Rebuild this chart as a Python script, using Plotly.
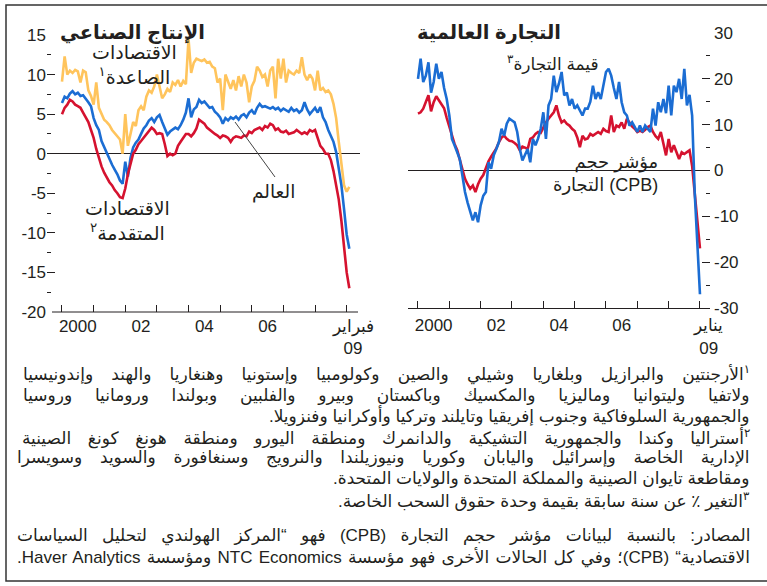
import plotly.graph_objects as go

# ---------------- data ----------------
# Left panel: industrial production, monthly Jan 2000 .. Feb 2009 (% change y/y)
ip_emerging = [9.1, 12.3, 10.0, 10.5, 10.2, 10.6, 10.4, 9.0, 10.5, 10.3, 8.0, 7.3,
               6.2, 9.0, 5.8, 5.0, 4.3, 4.0, 3.6, 3.0, 2.6, 2.2, 1.8, 0.0,
               5.0, 1.0, 2.5, 4.0, 3.5, 5.5, 6.0, 5.5, 7.2, 8.0, 7.7, 8.5,
               10.0, 8.5, 7.0, 7.5, 8.2, 7.8, 9.0, 8.7, 9.3, 8.5, 9.2, 8.8,
               14.5, 10.2, 11.5, 12.0, 11.8, 11.7, 11.9, 11.5, 11.6, 11.0, 10.8, 9.0,
               9.5, 5.5, 10.0, 9.0, 8.2, 9.3, 8.0, 9.8, 8.5, 10.0, 9.0, 6.5,
               8.5, 9.2, 11.0, 10.5, 9.7, 10.0, 8.5, 10.5, 11.0, 7.0, 12.0, 9.5,
               12.0, 9.0, 10.5, 10.2, 10.0, 10.5, 10.2, 12.2, 10.0, 9.3, 10.0, 9.5,
               8.0, 10.5, 8.0, 8.3, 7.8, 8.0, 7.5, 6.3, 4.5, 1.5, -1.5, -4.0,
               -4.8, -4.2]
ip_world = [6.4, 7.2, 7.0, 7.6, 7.9, 7.5, 7.7, 7.3, 7.4, 7.0, 6.5, 6.0,
            4.5, 3.6, 3.0, 1.6, 0.8, 0.0, -0.8, -1.4, -2.0, -2.6, -3.4, -3.8,
            -1.0, -2.9, -0.5, 0.8, 1.4, 1.8, 2.5, 3.2, 3.6, 4.2, 4.5, 4.0,
            4.6, 4.9, 4.0, 3.2, 2.4, 2.8, 3.0, 3.3, 3.1, 3.6, 4.3, 5.2,
            7.0, 4.6, 5.6, 5.9, 6.8, 6.4, 6.6, 6.2, 5.8, 5.9, 5.3, 5.0,
            4.6, 3.8, 4.5, 4.2, 4.6, 4.4, 4.7, 4.3, 4.8, 5.0, 4.6, 5.2,
            5.5, 5.0, 5.8, 6.3, 5.9, 6.0, 5.8, 5.7, 5.9, 5.6, 5.8, 5.4,
            5.7, 5.5, 5.3, 5.8, 5.4, 5.6, 5.2, 5.5, 6.5, 5.6, 5.0, 5.4,
            5.8, 5.2, 5.9, 4.6, 4.0, 3.0, 2.3, 1.5, 0.2, -1.8, -4.0, -7.0,
            -10.2, -12.0]
ip_advanced = [5.0, 5.8, 6.2, 6.8, 6.6, 6.2, 6.0, 5.8, 5.2, 4.6, 4.0, 3.0,
               2.0, 0.6, -0.6, -1.6, -2.4, -3.0, -3.6, -4.0, -4.6, -5.0, -5.5, -5.6,
               -4.4, -2.6, -1.2, 0.0, 0.5, 1.2, 1.6, 2.0, 2.5, 2.8, 3.3, 3.0,
               2.5, 2.6, 2.5, 1.2, -0.3, 0.0, -0.2, 0.0, 1.0, 1.5, 2.0, 2.5,
               2.5, 2.2, 2.6, 3.2, 4.3, 4.0, 3.8, 3.3, 3.0, 2.7, 2.5, 2.3,
               2.0, 2.3, 2.2, 2.0, 1.5, 2.0, 2.2, 2.1, 2.0, 2.3, 2.2, 2.8,
               2.6, 3.0, 3.2, 3.3, 3.0, 3.5, 3.3, 3.8, 3.6, 3.0, 3.2, 2.8,
               2.7, 2.9, 2.5, 2.6, 2.7, 3.0, 2.8, 2.5, 2.7, 2.5, 3.0, 2.8,
               3.0, 2.0, 1.0, 0.6, 0.0, 0.0, -0.8, -2.2, -3.8, -5.8, -8.5, -11.8,
               -15.0, -17.0]

# Right panel: world trade, monthly Jan 2000 .. Jan 2009
trade_value = [20.0, 24.4, 19.3, 20.7, 23.6, 17.0, 19.3, 23.3, 20.0, 21.5, 18.0, 15.6,
               12.0, 6.9, 5.5, 4.0, 2.5, -1.1, -4.7, -7.0, -9.1, -10.9, -9.1, -11.3,
               -7.6, -5.5, -4.7, 1.8, 0.4, 3.3, 4.7, 6.2, 9.1, 7.6, 10.2, 11.3,
               10.9, 10.5, 8.4, 4.7, 2.2, 3.3, 4.7, 1.8, 6.9, 5.5, 7.0, 9.1,
               12.7, 6.9, 14.2, 15.6, 20.7, 17.1, 19.0, 21.5, 16.4, 17.0, 14.2, 15.6,
               13.5, 14.2, 12.9, 12.0, 13.5, 13.5, 15.0, 18.5, 15.6, 17.1, 15.6, 19.0,
               21.5, 22.2, 20.7, 18.0, 15.6, 19.3, 14.9, 12.7, 12.0, 9.8, 10.5, 9.5,
               8.4, 9.8, 8.4, 9.8, 9.0, 8.4, 13.5, 9.8, 14.9, 12.7, 15.6, 12.5,
               18.5, 12.0, 18.5, 17.1, 20.0, 15.6, 22.2, 14.2, 16.5, 12.0, -5.0, -15.0,
               -27.0]
trade_volume_cpb = [12.4, 12.7, 13.5, 14.8, 16.4, 12.9, 14.9, 16.2, 15.4, 14.6, 13.6, 11.5,
                    9.5, 7.6, 5.8, 4.5, 2.5, 0.6, -1.8, -3.0, -4.0, -3.3, -4.7, -3.0,
                    -1.8, -1.0, 0.5, 2.0, 3.0, 4.0, 4.8, 6.2, 7.2, 7.6, 6.9, 6.5,
                    6.4, 6.0, 5.5, 4.4, 5.2, 5.0, 4.7, 6.9, 7.2, 8.0, 8.4, 8.2,
                    9.5, 10.5, 11.3, 12.0, 12.7, 14.2, 12.0, 10.5, 10.9, 10.2, 9.8, 9.1,
                    8.6, 7.2, 5.1, 7.6, 6.8, 7.0, 8.0, 7.6, 8.1, 8.4, 8.0, 9.1,
                    8.6, 8.4, 12.0, 8.4, 9.8, 9.5, 10.5, 9.1, 11.3, 10.5, 9.6, 9.1,
                    8.4, 8.7, 8.4, 8.9, 9.5, 9.8, 8.4, 7.5, 6.9, 8.4, 5.5, 3.3,
                    6.9, 4.0, 5.5, 4.0, 2.5, 4.0, 3.6, 4.0, 4.4, 1.0, -5.0, -10.0,
                    -17.0]

year_ticks = [2000, 2001, 2002, 2003, 2004, 2005, 2006, 2007, 2008, 2009]
label_pos_left = [2000.5, 2002.5, 2004.5, 2006.5, 2009.2]
label_pos_right = [2000.5, 2002.5, 2004.5, 2006.5, 2009.28]
left_ticktext = ["2000", "02", "04", "06", "فبراير<br>09"]
right_ticktext = ["2000", "02", "04", "06", "يناير<br>09"]
left_yvals = [-20, -15, -10, -5, 0, 5, 10, 15]
left_ytext = ["-20", "-15", "-10", "-5", "0", "5", "10", "15"]
right_yvals = [-30, -20, -10, 0, 10, 20, 30]
right_ytext = ["-30", "-20", "-10", "0", "10", "20", "30"]

footnotes = [
    "<sup>۱</sup>الأرجنتين والبرازيل وبلغاريا وشيلي والصين وكولومبيا وإستونيا وهنغاريا والهند وإندونيسيا",
    "ولاتفيا وليتوانيا وماليزيا والمكسيك وباكستان وبيرو والفلبين وبولندا ورومانيا وروسيا",
    "والجمهورية السلوفاكية وجنوب إفريقيا وتايلند وتركيا وأوكرانيا وفنزويلا.",
    "<sup>۲</sup>أستراليا وكندا والجمهورية التشيكية والدانمرك ومنطقة اليورو ومنطقة هونغ كونغ الصينية",
    "الإدارية الخاصة وإسرائيل واليابان وكوريا ونيوزيلندا والنرويج وسنغافورة والسويد وسويسرا",
    "ومقاطعة تايوان الصينية والمملكة المتحدة والولايات المتحدة.",
    "<sup>۳</sup>التغير ٪ عن سنة سابقة بقيمة وحدة حقوق السحب الخاصة.",
    "المصادر: بالنسبة لبيانات مؤشر حجم التجارة (CPB) فهو “المركز الهولندي لتحليل السياسات",
    "الاقتصادية“ (CPB)؛ وفي كل الحالات الأخرى فهو مؤسسة NTC Economics ومؤسسة Haver Analytics.",
]
footnote_y = [374, 395, 416, 437, 458, 479, 500, 536, 557]
footnote_wordspacing = [13.5, 18, 0, 12, 13, 0, 0, 9.5, 1.5]

# ---------------- helpers ----------------
W, H = 767, 586
def px(x):
    return x / W
def py(y):
    return 1 - y / H
def rtl(s):
    return "\u202b" + s + "\u202c"

def months(n):
    return [2000 + m / 12 for m in range(n)]

INK = "#231F20"
ORANGE = "#FFC45C"
BLUE = "#1B6DD3"
RED = "#D5122F"
NUM_FONT = "Liberation Sans, Arial, sans-serif"
AR_FONT = "Liberation Sans, DejaVu Sans, sans-serif"

fig = go.Figure()
xl = months(len(ip_world))
xr = months(len(trade_value))
fig.add_trace(go.Scatter(x=xl, y=ip_emerging, mode="lines", line=dict(color=ORANGE, width=2.6), xaxis="x", yaxis="y", showlegend=False))
fig.add_trace(go.Scatter(x=xl, y=ip_world, mode="lines", line=dict(color=BLUE, width=2.6), xaxis="x", yaxis="y", showlegend=False))
fig.add_trace(go.Scatter(x=xl, y=ip_advanced, mode="lines", line=dict(color=RED, width=2.6), xaxis="x", yaxis="y", showlegend=False))
fig.add_trace(go.Scatter(x=xr, y=trade_volume_cpb, mode="lines", line=dict(color=RED, width=2.6), xaxis="x2", yaxis="y2", showlegend=False))
fig.add_trace(go.Scatter(x=xr, y=trade_value, mode="lines", line=dict(color=BLUE, width=2.6), xaxis="x2", yaxis="y2", showlegend=False))

tickfont = dict(family=NUM_FONT, size=17, color=INK)

left_minor = [-17.5, -12.5, -7.5, -2.5, 2.5, 7.5, 12.5]
right_minor = [-25, -15, -5, 5, 15, 25]

common = dict(showgrid=False, automargin=False, tickcolor=INK, tickwidth=1)

fig.update_layout(
    width=W, height=H,
    margin=dict(l=0, r=0, t=0, b=0, autoexpand=False),
    paper_bgcolor="white", plot_bgcolor="rgba(0,0,0,0)",
    xaxis=dict(domain=[px(47), px(360)], range=[1999.526, 2009.421], anchor="y",
               tickvals=label_pos_left, ticktext=left_ticktext, ticks="", ticklabelstandoff=2,
               zeroline=False, showline=False, tickfont=tickfont,
               minor=dict(tickvals=year_ticks, ticks="inside", ticklen=7, tickcolor=INK, showgrid=False),
               **common),
    yaxis=dict(domain=[py(312), py(35)], range=[-20, 15], anchor="x",
               tickvals=left_yvals, ticktext=left_ytext, ticks="inside", ticklen=8,
               zeroline=True, zerolinecolor=INK, zerolinewidth=1, showline=False, tickfont=tickfont,
               minor=dict(tickvals=left_minor, ticks="inside", ticklen=4, tickcolor=INK, showgrid=False),
               **common),
    yaxis3=dict(overlaying="y", side="right", anchor="x", range=[-20, 15],
                tickvals=left_yvals, ticks="inside", ticklen=8,
                showticklabels=False, zeroline=False, showline=False,
                minor=dict(tickvals=left_minor, ticks="inside", ticklen=4, tickcolor=INK, showgrid=False),
                **common),
    xaxis2=dict(domain=[px(408), px(710)], range=[1999.681, 2009.32], anchor="y2",
                tickvals=label_pos_right, ticktext=right_ticktext, ticks="", ticklabelstandoff=2,
                zeroline=False, showline=True, linecolor=INK, linewidth=1, tickfont=tickfont,
                minor=dict(tickvals=year_ticks, ticks="inside", ticklen=7, tickcolor=INK, showgrid=False),
                **common),
    yaxis2=dict(domain=[py(308), py(33)], range=[-30, 30], anchor="x2", side="right",
                tickvals=right_yvals, ticktext=right_ytext, ticks="inside", ticklen=8,
                ticklabelstandoff=3,
                zeroline=True, zerolinecolor=INK, zerolinewidth=1, showline=False, tickfont=tickfont,
                minor=dict(tickvals=right_minor, ticks="inside", ticklen=4, tickcolor=INK, showgrid=False),
                **common),
    yaxis4=dict(overlaying="y2", side="left", anchor="x2", range=[-30, 30],
                tickvals=right_yvals, ticks="inside", ticklen=7,
                showticklabels=False, zeroline=False, showline=False,
                minor=dict(tickvals=right_minor, ticks="inside", ticklen=4, tickcolor=INK, showgrid=False),
                **common),
)

shapes = [
    # outer frame
    dict(type="rect", xref="paper", yref="paper", x0=px(6), x1=1.02, y0=py(581), y1=py(5),
         line=dict(color="#333333", width=1.5), fillcolor="rgba(0,0,0,0)", layer="below"),
    # left panel x-axis line
    dict(type="line", xref="paper", yref="paper", x0=px(52), x1=px(358), y0=py(312), y1=py(312),
         line=dict(color=INK, width=1)),
    # pointer for "world"
    dict(type="line", xref="paper", yref="paper", x0=px(275), y0=py(177), x1=px(235), y1=py(122),
         line=dict(color="#444444", width=1)),
]
fig.update_layout(shapes=shapes)

ann = []
def add_text(text, x, y, size=15, bold=False, xanchor="center", align="center", family=AR_FONT):
    t = rtl(text)
    if bold:
        t = "<b>" + t + "</b>"
    ann.append(dict(text=t, x=px(x), y=py(y), xref="paper", yref="paper", showarrow=False,
                    xanchor=xanchor, yanchor="middle", align=align,
                    font=dict(family=family, size=size, color=INK)))

add_text("الإنتاج الصناعي", 207, 33, size=19.5, bold=True, xanchor="right")
add_text("التجارة العالمية", 563, 32, size=19.5, bold=True, xanchor="right")
add_text("الاقتصادات<br>الصاعدة<sup>۱</sup>", 134, 65, size=19)
add_text("العالم", 273, 192, size=18.5)
add_text("الاقتصادات<br>المتقدمة<sup>۲</sup>", 127, 221, size=19)
add_text("قيمة التجارة<sup>۳</sup>", 553, 63, size=17)
add_text("مؤشر حجم<br>التجارة (CPB)", 660, 173, size=18, xanchor="right", align="right")

for line, yy, ws in zip(footnotes, footnote_y, footnote_wordspacing):
    txt = line
    if ws:
        txt = '<span style="word-spacing:%spx">%s</span>' % (ws, line)
    add_text(txt, 752, yy, size=17, xanchor="right", align="right")

fig.update_layout(annotations=ann)

fig.write_html("out.html", config={"displayModeBar": False},
               post_script="document.body.style.margin='0';document.body.style.overflow='hidden';")
